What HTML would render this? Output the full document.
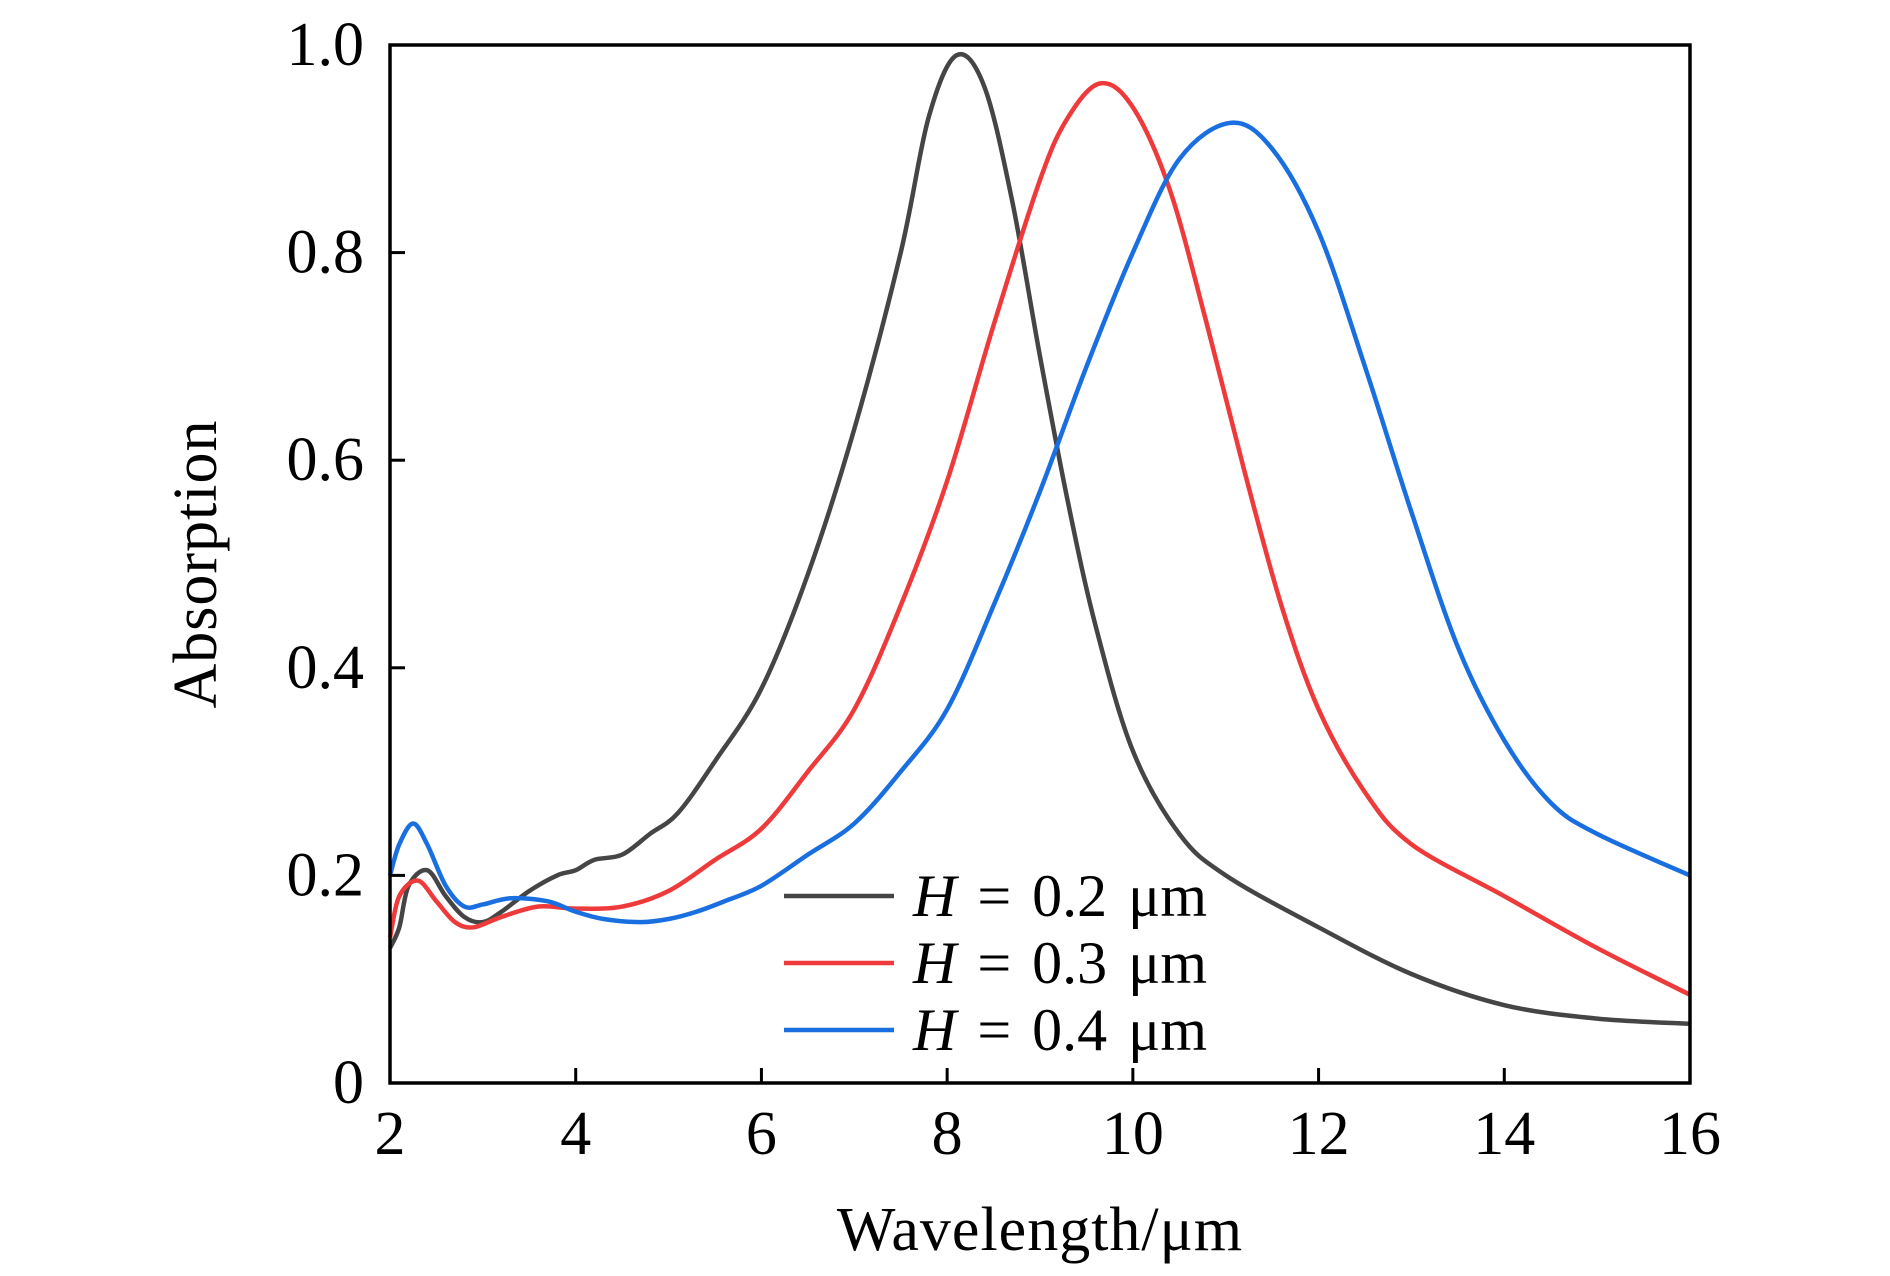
<!DOCTYPE html>
<html><head><meta charset="utf-8"><style>
body{margin:0;background:#fff;}
svg{display:block;font-family:"Liberation Serif","DejaVu Serif",serif;}
</style></head><body>
<svg id="chart" width="1890" height="1276" viewBox="0 0 1890 1276">
<g id="series"></g>
<rect x="390" y="45" width="1300" height="1038" fill="none" stroke="#000" stroke-width="3.5"/>
<g id="axes"></g>
<text x="1040" y="1250" font-size="62" letter-spacing="1" text-anchor="middle">Wavelength/μm</text>
<text x="0" y="0" font-size="62" letter-spacing="1" text-anchor="middle" transform="translate(216,564) rotate(-90)">Absorption</text>
<g id="legend"></g>
</svg>
<script>
const xTicks=[2,4,6,8,10,12,14,16];
const yTicks=[0,0.2,0.4,0.6,0.8,1.0];
const yTickLabels=["0","0.2","0.4","0.6","0.8","1.0"];
const seriesNames=["H = 0.2 μm","H = 0.3 μm","H = 0.4 μm"];
const seriesColors=["#454545","#ee3a3a","#1a6fe0"];
const blackX=[2,2.1,2.2,2.4,2.6,2.8,3.0,3.2,3.5,3.8,4.0,4.2,4.5,4.8,5.1,5.5,6.0,6.5,7.0,7.5,7.8,8.1,8.4,8.7,9.0,9.3,9.6,10.0,10.5,11,12,13,14,15,16];
const blackY=[0.13,0.15,0.19,0.205,0.18,0.16,0.155,0.165,0.185,0.2,0.205,0.215,0.22,0.24,0.26,0.31,0.38,0.49,0.63,0.8,0.93,0.99,0.96,0.85,0.7,0.56,0.44,0.32,0.24,0.2,0.15,0.105,0.075,0.062,0.057];
const redX=[2,2.1,2.3,2.5,2.7,2.9,3.2,3.6,4.0,4.5,5.0,5.5,6.0,6.5,7.0,7.5,8.0,8.5,9.0,9.3,9.65,10.0,10.4,10.8,11.2,11.6,12.0,12.5,13,14,15,16];
const redY=[0.14,0.18,0.195,0.175,0.155,0.15,0.16,0.17,0.168,0.17,0.185,0.215,0.245,0.3,0.36,0.46,0.58,0.73,0.87,0.93,0.963,0.94,0.86,0.73,0.59,0.46,0.36,0.28,0.23,0.18,0.13,0.085];
const blueX=[2,2.1,2.25,2.4,2.6,2.8,3.0,3.3,3.7,4.0,4.3,4.7,5.0,5.3,5.6,6.0,6.5,7.0,7.5,8.0,8.5,9.0,9.5,10.0,10.5,11.05,11.5,12.0,12.5,13,13.5,14,14.5,15,16];
const blueY=[0.2,0.23,0.25,0.23,0.19,0.17,0.172,0.178,0.175,0.165,0.158,0.155,0.158,0.165,0.175,0.19,0.22,0.25,0.3,0.36,0.46,0.57,0.69,0.8,0.89,0.925,0.9,0.82,0.69,0.55,0.42,0.33,0.27,0.24,0.2];
const NS="http://www.w3.org/2000/svg";
const X0=390,X1=1690,Y0=1083,Y1=45;
function sx(v){return X0+(v-2)/(16-2)*(X1-X0);}
function sy(v){return Y0-(v-0)/(1-0)*(Y0-Y1);}
function mk(tag,attrs,parent){const e=document.createElementNS(NS,tag);for(const k in attrs)e.setAttribute(k,attrs[k]);parent.appendChild(e);return e;}
const axes=document.getElementById('axes');
xTicks.forEach(t=>{
  const l=mk('line',{x1:sx(t),x2:sx(t),y1:Y0,y2:Y0-15,stroke:'#000','stroke-width':3},axes);
  
  
  const tx=mk('text',{x:sx(t),y:1154,'font-size':62,'text-anchor':'middle'},axes);
  tx.textContent=t;
  
  
});
yTicks.forEach((t,i)=>{
  const l=mk('line',{x1:X0,x2:X0+15,y1:sy(t),y2:sy(t),stroke:'#000','stroke-width':3},axes);
  
  
  const tx=mk('text',{x:364,y:sy(t)+20,'font-size':62,'text-anchor':'end'},axes);
  tx.textContent=yTickLabels[i];
  
  
});
function pathFor(xs,ys){
  const p=xs.map((x,i)=>[sx(x),sy(ys[i])]);
  let d='M'+p[0][0]+','+p[0][1];
  for(let i=0;i<p.length-1;i++){
    const p0=p[i-1]||p[i],p1=p[i],p2=p[i+1],p3=p[i+2]||p2;
    const c1=[p1[0]+(p2[0]-p0[0])/6,p1[1]+(p2[1]-p0[1])/6];
    const c2=[p2[0]-(p3[0]-p1[0])/6,p2[1]-(p3[1]-p1[1])/6];
    d+=' C'+c1+' '+c2+' '+p2;
  }
  return d;
}
const sg=document.getElementById('series');
const data=[[blackX,blackY],[redX,redY],[blueX,blueY]];
const names=['line-h-0-2','line-h-0-3','line-h-0-4'];
data.forEach((s,i)=>{
  const p=mk('path',{d:pathFor(s[0],s[1]),fill:'none',stroke:seriesColors[i],'stroke-width':4.5,'stroke-linejoin':'round'},sg);
  
  
});
const lg=document.getElementById('legend');
seriesNames.forEach((n,i)=>{
  const y=896+i*67;
  const l=mk('line',{x1:784,x2:894,y1:y,y2:y,stroke:seriesColors[i],'stroke-width':4.5},lg);
  
  
  const t=mk('text',{x:913,y:y+20,'font-size':60,'word-spacing':'6'},lg);
  t.innerHTML='<tspan font-style="italic">H</tspan> = '+n.slice(4);
  
  
});
</script>
</body></html>
